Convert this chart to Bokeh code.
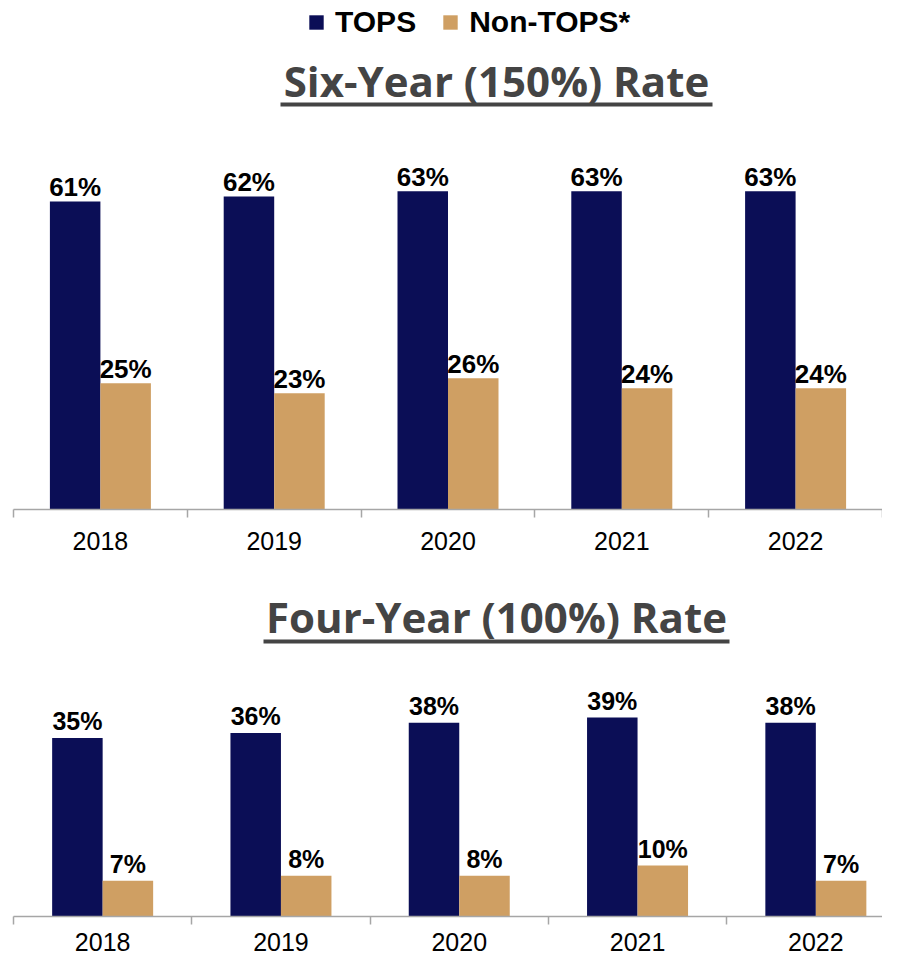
from bokeh.plotting import figure
from bokeh.layouts import column
from bokeh.models import Range1d, FixedTicker, Label, BoxAnnotation, ColumnDataSource, LinearAxis
from bokeh.core.properties import value
from bokeh.embed import file_html
from bokeh.resources import INLINE

# ---- data ----
years = ["2018", "2019", "2020", "2021", "2022"]
series = ["TOPS", "Non-TOPS*"]
six_tops = [61, 62, 63, 63, 63]
six_non = [25, 23, 26, 24, 24]
four_tops = [35, 36, 38, 39, 38]
four_non = [7, 8, 8, 10, 7]
titles = ["Six-Year (150%) Rate", "Four-Year (100%) Rate"]
colors = ["#0B0E56", "#CF9F63"]

LABEL_FONT = "Liberation Sans"
TITLE_FONT = "Open Sans"
W = 882
LEFT = 13


def build(tops, non, title_text, fig_h, frame_h, cat_px, px_per_pct, title_y,
          ul_left, ul_right, ul_top, ul_bottom, lbl_size, lbl_off, standoff, legend):
    frame_w = W - LEFT
    bar_w = 50.5 / cat_px
    p = figure(width=W, height=fig_h, output_backend="svg", toolbar_location=None,
               x_range=Range1d(0.5, 0.5 + frame_w / cat_px),
               y_range=Range1d(0, frame_h / px_per_pct),
               min_border_left=LEFT, min_border_right=0,
               min_border_top=0, min_border_bottom=fig_h - frame_h,
               x_axis_type=None, y_axis_type=None)
    p.outline_line_color = None
    p.background_fill_color = "white"
    p.border_fill_color = "white"
    p.xgrid.visible = False
    p.ygrid.visible = False

    pos = list(range(1, len(years) + 1))
    src = ColumnDataSource(dict(
        x_t=[x - bar_w / 2 for x in pos], x_n=[x + bar_w / 2 for x in pos],
        tops=tops, non=non,
        lt=[f"{v}%" for v in tops], ln=[f"{v}%" for v in non]))

    kw = dict(legend_label=series[0]) if legend else {}
    p.vbar(x="x_t", top="tops", bottom=0, width=bar_w, source=src,
           fill_color=colors[0], line_color=None, **kw)
    kw = dict(legend_label=series[1]) if legend else {}
    p.vbar(x="x_n", top="non", bottom=0, width=bar_w, source=src,
           fill_color=colors[1], line_color=None, **kw)

    for xc, yc, tc in (("x_t", "tops", "lt"), ("x_n", "non", "ln")):
        p.text(x=xc, y=yc, text=tc, source=src, text_align="center",
               text_baseline="middle", y_offset=-lbl_off,
               text_font=value(LABEL_FONT), text_font_style="bold",
               text_font_size=f"{lbl_size}px", text_color="black")

    ax = LinearAxis()
    ax.ticker = FixedTicker(ticks=pos, minor_ticks=[x + 0.5 for x in range(0, len(years) + 1)])
    ax.major_label_overrides = {x: y for x, y in zip(pos, years)}
    ax.major_tick_in = 0
    ax.major_tick_out = 0
    ax.minor_tick_in = 0
    ax.minor_tick_out = 8
    ax.axis_line_color = "#A6A6A6"
    ax.axis_line_width = 1.5
    ax.minor_tick_line_color = "#A6A6A6"
    ax.minor_tick_line_width = 1.5
    ax.major_label_text_font = LABEL_FONT
    ax.major_label_text_font_size = "25px"
    ax.major_label_text_color = "black"
    ax.major_label_standoff = standoff
    p.add_layout(ax, "below")

    p.add_layout(Label(x=483, y=title_y, x_units="screen", y_units="screen",
                       text=title_text, text_align="center", text_baseline="middle",
                       text_font=TITLE_FONT, text_font_style="bold",
                       text_font_size="42px", text_color="#444444"))
    p.add_layout(BoxAnnotation(left=ul_left, right=ul_right, top=ul_top, bottom=ul_bottom,
                               left_units="screen", right_units="screen",
                               top_units="screen", bottom_units="screen",
                               fill_color="#444444", fill_alpha=1.0, line_color=None))

    if legend:
        lg = p.legend[0]
        lg.orientation = "horizontal"
        lg.location = (294, 470)
        lg.margin = 0
        lg.padding = 0
        lg.spacing = 25
        lg.label_standoff = 10
        lg.glyph_width = 18
        lg.glyph_height = 18
        lg.label_text_font = LABEL_FONT
        lg.label_text_font_style = "bold"
        lg.label_text_font_size = "30px"
        lg.label_text_color = "black"
        lg.border_line_color = None
        lg.background_fill_alpha = 0
    return p


# top chart: frame 509px tall (5.05 px per %), categories ~174 px wide
p1 = build(six_tops, six_non, titles[0], 560, 509, 173.8, 5.05, 429,
           267, 699, 407, 403, 26, 14, 14, True)
# bottom chart: categories ~178 px wide
p2 = build(four_tops, four_non, titles[1], 398, 356, 178.3, 5.1, 300.5,
           250, 716, 277, 273, 25, 17, 8, False)

layout = column(p1, p2, spacing=0)
open("out.html", "w").write(file_html(layout, INLINE))
